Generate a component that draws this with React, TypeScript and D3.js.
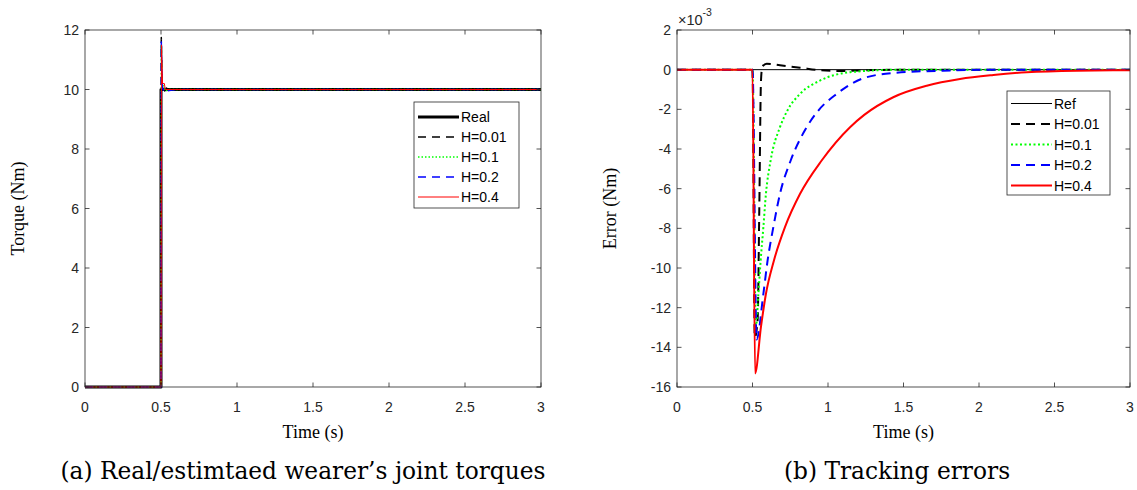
import React from "react";
import * as d3 from "d3";

const timeTicks = [0, 0.5, 1, 1.5, 2, 2.5, 3];
const torqueTicks = [0, 2, 4, 6, 8, 10, 12];
const errorTicks = [2, 0, -2, -4, -6, -8, -10, -12, -14, -16];

// Left panel: torques (Nm) vs time (s)
const torqueReal: [number, number][] = [[0, 0], [0.5, 0], [0.5, 10], [3, 10]];
const torqueH001: [number, number][] = [[0, 0], [0.5, 0], [0.502, 11.75], [0.507, 10.3], [0.515, 10.15], [0.525, 9.95], [0.535, 10.05], [0.55, 10], [3, 10]];
const torqueH01: [number, number][] = [[0, 0], [0.5, 0], [0.502, 11.5], [0.508, 10.2], [0.52, 10.05], [0.53, 9.95], [0.55, 10], [3, 10]];
const torqueH02: [number, number][] = [[0, 0], [0.5, 0], [0.502, 11.6], [0.508, 10.1], [0.52, 9.9], [0.54, 9.95], [0.6, 10], [3, 10]];
const torqueH04: [number, number][] = [[0, 0], [0.5, 0], [0.503, 11.5], [0.51, 10.2], [0.522, 10.2], [0.528, 10.0], [3, 10]];

// Right panel: tracking errors (x1e-3 Nm) vs time (s)
const errRef: [number, number][] = [[0, 0], [3, 0]];
const errH001: [number, number][] = [[0, 0], [0.5, 0], [0.515, -13.5], [0.534, -12.6], [0.545, -7], [0.556, -0.6], [0.565, 0.15], [0.594, 0.3], [0.682, 0.22], [0.815, 0.1], [0.947, -0.03], [1.08, -0.07], [1.3, -0.02], [1.6, 0], [3, 0]];
const errH01: [number, number][] = [[0, 0], [0.5, 0], [0.522, -13.0], [0.539, -11.3], [0.554, -9.62], [0.572, -7.94], [0.589, -6.26], [0.62, -4.58], [0.682, -2.9], [0.731, -2.06], [0.815, -1.22], [0.947, -0.55], [1.146, -0.13], [1.477, 0], [3, 0]];
const errH02: [number, number][] = [[0, 0], [0.5, 0], [0.527, -13.6], [0.572, -11.3], [0.6, -9.62], [0.638, -7.94], [0.682, -6.26], [0.753, -4.58], [0.859, -2.9], [0.936, -2.06], [1.058, -1.22], [1.22, -0.47], [1.43, -0.17], [1.76, -0.05], [2.1, 0], [3, 0]];
const errH04: [number, number][] = [[0, 0], [0.5, 0], [0.517, -15.32], [0.556, -12.97], [0.589, -11.3], [0.642, -9.62], [0.715, -7.94], [0.815, -6.26], [0.958, -4.58], [1.146, -2.9], [1.24, -2.28], [1.432, -1.39], [1.654, -0.81], [1.874, -0.47], [2.095, -0.27], [2.316, -0.13], [2.647, -0.05], [3, -0.03]];

const leftLegend = ["Real", "H=0.01", "H=0.1", "H=0.2", "H=0.4"];
const rightLegend = ["Ref", "H=0.01", "H=0.1", "H=0.2", "H=0.4"];

const AX = "#262626";
const SANS = "'Liberation Sans', Arial, sans-serif";
const SERIF = "'Liberation Serif', 'Times New Roman', serif";
const CAP = "'DejaVu Serif', serif";

type Style = { color: string; width: number; dash?: string };

const leftStyles: Style[] = [
  { color: "#000000", width: 3 },
  { color: "#000000", width: 1.5, dash: "8,6" },
  { color: "#00ff00", width: 1.5, dash: "1.5,2" },
  { color: "#0000ff", width: 1.5, dash: "8,6" },
  { color: "#ff0000", width: 1 },
];
const rightStyles: Style[] = [
  { color: "#000000", width: 1 },
  { color: "#000000", width: 2, dash: "9,6" },
  { color: "#00ff00", width: 2, dash: "2,2.5" },
  { color: "#0000ff", width: 2, dash: "9,6" },
  { color: "#ff0000", width: 2 },
];

function Panel(props: {
  left: number; right: number; top: number; bottom: number;
  yDomain: [number, number]; yTicks: number[]; series: [number, number][][];
  styles: Style[]; ylabel: string; curve: any;
  legend: { x0: number; x1: number; y0: number; y1: number; rows: number[]; names: string[] };
  multiplier?: boolean;
}) {
  const { left, right, top, bottom, yDomain, yTicks, series, styles, ylabel, curve, legend } = props;
  const x = d3.scaleLinear().domain([0, 3]).range([left, right]);
  const y = d3.scaleLinear().domain(yDomain).range([bottom, top]);
  const line = d3.line<[number, number]>().x((d) => x(d[0])).y((d) => y(d[1])).curve(curve);
  const tl = 4.5;
  const cx = (left + right) / 2;
  const cy = (top + bottom) / 2;
  return (
    <g>
      <defs>
        <clipPath id={`clip${left}`}>
          <rect x={left} y={top - 2} width={right - left} height={bottom - top + 4} />
        </clipPath>
      </defs>
      <g clipPath={`url(#clip${left})`}>
        {series.map((s, i) => (
          <path key={i} d={line(s) || ""} fill="none" stroke={styles[i].color}
            strokeWidth={styles[i].width} strokeDasharray={styles[i].dash} strokeLinejoin="round" />
        ))}
      </g>
      <rect x={left} y={top} width={right - left} height={bottom - top} fill="none" stroke={AX} strokeWidth={0.8} />
      {timeTicks.map((t) => (
        <g key={"xt" + t}>
          <line x1={x(t)} x2={x(t)} y1={bottom} y2={bottom - tl} stroke={AX} strokeWidth={0.8} />
          <line x1={x(t)} x2={x(t)} y1={top} y2={top + tl} stroke={AX} strokeWidth={0.8} />
          <text x={x(t)} y={bottom + 25} textAnchor="middle" fontFamily={SANS} fontSize={14} fill={AX}>{t}</text>
        </g>
      ))}
      {yTicks.map((t) => (
        <g key={"yt" + t}>
          <line x1={left} x2={left + tl} y1={y(t)} y2={y(t)} stroke={AX} strokeWidth={0.8} />
          <line x1={right} x2={right - tl} y1={y(t)} y2={y(t)} stroke={AX} strokeWidth={0.8} />
          <text x={left - 6} y={y(t) + 5} textAnchor="end" fontFamily={SANS} fontSize={14} fill={AX}>{t}</text>
        </g>
      ))}
      {props.multiplier && (
        <text x={left + 1} y={25} fontFamily={SANS} fontSize={14.5} fill={AX}>
          ×10<tspan dy={-9} fontSize={10.5}>-3</tspan>
        </text>
      )}
      <text x={cx} y={bottom + 51} textAnchor="middle" fontFamily={SERIF} fontSize={18} fill="#000">Time (s)</text>
      <text transform={`translate(${left - 61},${cy}) rotate(-90)`} textAnchor="middle" fontFamily={SERIF} fontSize={18} fill="#000">{ylabel}</text>
      <rect x={legend.x0} y={legend.y0} width={legend.x1 - legend.x0} height={legend.y1 - legend.y0} fill="#fff" stroke={AX} strokeWidth={0.8} />
      {legend.names.map((n, i) => (
        <g key={"lg" + i}>
          <line x1={legend.x0 + 4} x2={legend.x0 + 45} y1={legend.rows[i]} y2={legend.rows[i]}
            stroke={styles[i].color} strokeWidth={styles[i].width} strokeDasharray={styles[i].dash} />
          <text x={legend.x0 + 47} y={legend.rows[i] + 5} fontFamily={SANS} fontSize={14} fill="#000">{n}</text>
        </g>
      ))}
    </g>
  );
}

export default function App() {
  return (
    <svg width={1137} height={490} style={{ position: "absolute", left: 0, top: 0, background: "#fff" }}>
      <rect x={0} y={0} width={1137} height={490} fill="#fff" />
      <Panel left={85} right={541} top={30} bottom={387} yDomain={[0, 12]} yTicks={torqueTicks}
        series={[torqueReal, torqueH001, torqueH01, torqueH02, torqueH04]} styles={leftStyles}
        ylabel="Torque (Nm)" curve={d3.curveLinear}
        legend={{ x0: 414, x1: 519, y0: 102, y1: 208, rows: [117, 137, 157, 177, 197], names: leftLegend }} />
      <Panel left={677} right={1130} top={30} bottom={387} yDomain={[-16, 2]} yTicks={errorTicks}
        series={[errRef, errH001, errH01, errH02, errH04]} styles={rightStyles}
        ylabel="Error (Nm)" curve={d3.curveMonotoneX} multiplier
        legend={{ x0: 1007, x1: 1110, y0: 91, y1: 195, rows: [103.5, 124, 144.5, 165, 185.5], names: rightLegend }} />
      <text x={303} y={479} textAnchor="middle" fontFamily={CAP} fontSize={23.3} fill="#000">(a) Real/estimtaed wearer’s joint torques</text>
      <text x={897} y={479} textAnchor="middle" fontFamily={CAP} fontSize={23.3} fill="#000">(b) Tracking errors</text>
    </svg>
  );
}
